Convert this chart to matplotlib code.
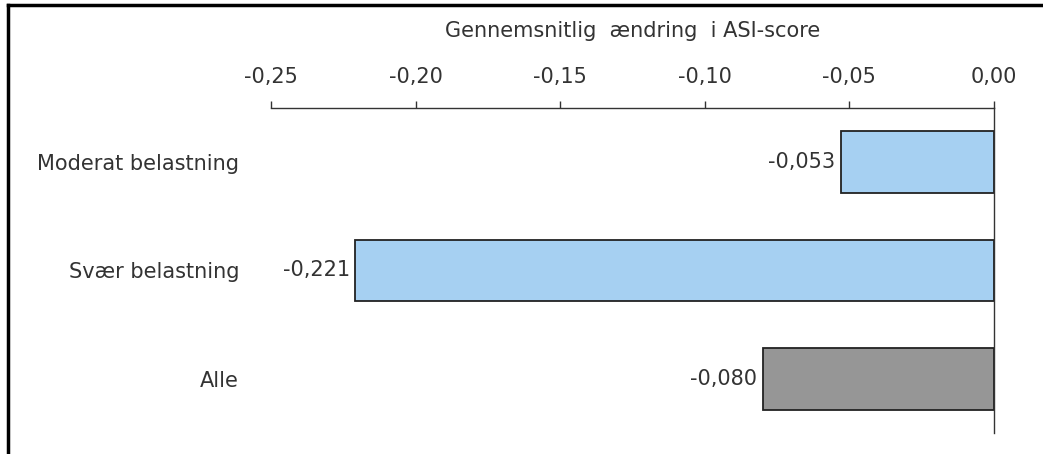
import matplotlib
matplotlib.use("Agg")
import matplotlib.pyplot as plt
from matplotlib.lines import Line2D

plt.rcParams["font.family"] = ["DejaVu Sans"]

categories = ["Moderat belastning", "Svær belastning", "Alle"]
values = [-0.053, -0.221, -0.080]
colors = ["#A6D0F2", "#A6D0F2", "#969696"]
xticks = [-0.25, -0.20, -0.15, -0.10, -0.05, 0.00]
title = "Gennemsnitlig  ændring  i ASI-score"

def fmt(v, nd):
    return f"{v:.{nd}f}".replace(".", ",")

FS = 15
fig = plt.figure(figsize=(10.43, 4.54), dpi=100)
ax = fig.add_axes([271/1043, 1-433/454, (994-271)/1043, (433-108)/454])

y = list(range(len(categories)))
ax.barh(y, values, height=0.57, color=colors, edgecolor="#222222", linewidth=1.3)
ax.set_xlim(-0.25, 0.0)
ax.set_ylim(2.5, -0.5)

for yi, v in zip(y, values):
    ax.text(v - 0.0018, yi, fmt(v, 3), ha="right", va="center", fontsize=FS, color="#333333")

ax.set_yticks(y)
ax.set_yticklabels(categories, fontsize=FS, color="#333333")
ax.tick_params(axis="y", length=0, pad=23)

ax.xaxis.tick_top()
ax.set_xticks(xticks)
ax.set_xticklabels([fmt(t, 2) for t in xticks], fontsize=FS, color="#333333")
ax.tick_params(axis="x", direction="out", length=5, width=1, color="#333333", pad=10)
ax.set_xlabel(title, fontsize=FS, color="#333333", labelpad=22)
ax.xaxis.set_label_position("top")

for s in ["left", "bottom"]:
    ax.spines[s].set_visible(False)
ax.spines["top"].set_color("#333333")
ax.spines["right"].set_color("#333333")
ax.spines["top"].set_linewidth(1)
ax.spines["right"].set_linewidth(1)

# outer frame (left and top edges)
fig.add_artist(Line2D([8/1043, 8/1043], [0, 1-5/454], transform=fig.transFigure, color="black", linewidth=2.5))
fig.add_artist(Line2D([8/1043, 1], [1-5/454, 1-5/454], transform=fig.transFigure, color="black", linewidth=2.5))

fig.savefig("out.png", dpi=100)
